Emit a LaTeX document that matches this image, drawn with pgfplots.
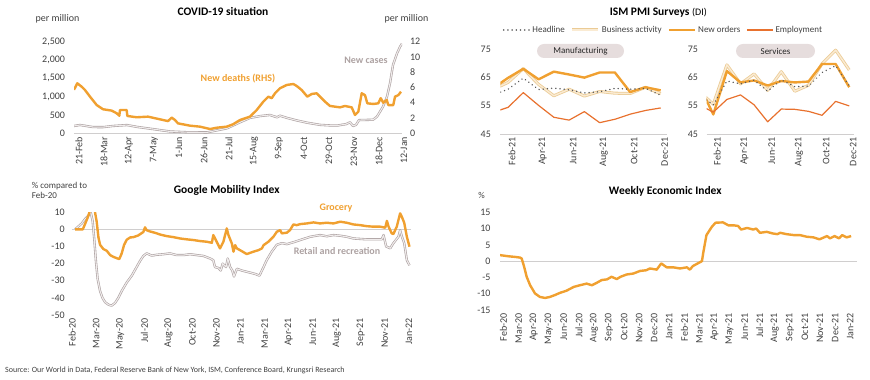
\documentclass[border=0pt]{standalone}
\usepackage{fontspec}
\setmainfont{Carlito}
\usepackage{pgfplots}
\pgfplotsset{compat=1.18}
\definecolor{orangeM}{HTML}{F0A030}
\definecolor{empO}{HTML}{E8712E}
\definecolor{baOut}{HTML}{EBCB95}
\definecolor{baIn}{HTML}{FAEBD3}
\definecolor{cOut}{HTML}{ABA0A0}
\definecolor{cIn}{HTML}{F0ECEC}
\definecolor{greyTxt}{HTML}{ADA2A2}
\definecolor{tickgray}{HTML}{404040}
\definecolor{linegray}{HTML}{D0CECE}
\definecolor{boxfill}{HTML}{E6DDDD}
\definecolor{hlgray}{HTML}{595959}
\pgfplotsset{
  base/.style={
    scale only axis,
    axis line style={draw=none},
    major tick length=0pt,
    tick label style={font=\fontsize{10}{11}\selectfont, text=tickgray},
    /pgf/number format/assume math mode=true,
    xticklabel style={rotate=90, anchor=east},
    yticklabel style={anchor=east},
  },
  zeroline/.style={extra y ticks={#1}, extra y tick labels={}, extra y tick style={grid=major, major grid style={draw=linegray, line width=0.9pt}}},
  thickO/.style={draw=orangeM, line width=2.4pt, line join=round},
  dbl/.style={draw=cOut, double=cIn, line width=0.6pt, double distance=1.1pt, line join=round},
  hl/.style={draw=hlgray, line width=1.6pt, dash pattern=on 0.01pt off 4.2pt, line cap=round},
  ba/.style={draw=baOut, double=baIn, line width=0.8pt, double distance=1.4pt, line join=round},
  no/.style={draw=orangeM, line width=2.4pt, line join=round},
  emp/.style={draw=empO, line width=1.2pt, line join=round},
}
\begin{document}
\begin{tikzpicture}
\useasboundingbox (0,0) rectangle (870pt,380pt);
%================ COVID ================
\begin{axis}[base, at={(74pt,246.7pt)}, anchor=south west, width=328pt, height=91.6pt,
  xmin=-2, xmax=326, ymin=0, ymax=2500,
  xtick={0,25,...,325},
  xticklabels={21-Feb,18-Mar,12-Apr,7-May,1-Jun,26-Jun,21-Jul,15-Aug,9-Sep,4-Oct,29-Oct,23-Nov,18-Dec,12-Jan},
  xticklabel style={yshift=-3pt},
  ytick={0,500,1000,1500,2000,2500},
  yticklabels={0,500,{1,000},{1,500},{2,000},{2,500}},
  yticklabel style={xshift=-5.5pt},
  zeroline=0]
\addplot[dbl] coordinates {(-2,200)(4,227)(17,170)(27,168)(37,200)(51,225)(61,175)(77,115)(94,50)(111,30)(131,25)(141,80)(151,136)(164,300)(174,420)(184,470)(194,500)(201,437)(204,480)(211,420)(221,350)(231,290)(244,230)(254,215)(262,215)(270,250)(274,300)(277,200)(280,230)(283,360)(297,370)(301,455)(304,590)(307,727)(311,1000)(314,1364)(317,1864)(321,2180)(324,2360)(326,2450)};
\end{axis}
\begin{axis}[base, at={(74pt,246.7pt)}, anchor=south west, width=328pt, height=91.6pt,
  xmin=-2, xmax=326, ymin=0, ymax=12,
  xtick=\empty, ytick={0,2,...,12}, yticklabel pos=right,
  yticklabel style={anchor=west, xshift=4.5pt}]
\addplot[thickO] coordinates {(-2,5.7)(1.3,6.55)(5.7,6.1)(9,5.67)(14,4.8)(20.7,3.7)(27,3.15)(35.7,2.97)(40.7,2.62)(43.3,2.3)(44,3.05)(50.7,3.05)(51.3,2.27)(60.7,2.1)(72,2.18)(84,1.83)(92,1.6)(95.7,2.05)(99,1.74)(102,1.3)(114,1.0)(124,0.87)(134,0.56)(140.7,0.73)(150.7,0.87)(157,1.18)(164,1.74)(174,2.18)(180.7,3.05)(187.3,4.14)(192.3,4.8)(195.7,4.6)(199,5.24)(204,5.9)(210.7,6.33)(217.3,6.46)(220.7,6.2)(225.7,5.67)(231.3,4.8)(235.7,5.15)(240.7,5.24)(244,4.8)(249,4.14)(254,3.58)(264,3.4)(269,3.58)(275.7,3.4)(279,2.4)(282.3,2.83)(285.7,5.24)(289,5.0)(291.3,3.93)(297.3,3.84)(302.3,3.93)(304.7,4.6)(307.3,4.0)(310.7,4.37)(312.3,3.7)(317.3,3.7)(319,4.8)(322.3,5.0)(325,5.45)};
\end{axis}
\node[font=\fontsize{11.5}{12}\selectfont\bfseries] at (223pt,368pt) {COVID-19 situation};
\node[font=\fontsize{10}{11}\selectfont, text=tickgray] at (57.5pt,361pt) {per million};
\node[font=\fontsize{10}{11}\selectfont, text=tickgray] at (406.5pt,361pt) {per million};
\node[font=\fontsize{10}{11}\selectfont\bfseries, text=orangeM] at (238pt,301pt) {New deaths (RHS)};
\node[font=\fontsize{10}{11}\selectfont\bfseries, text=greyTxt] at (366pt,320pt) {New cases};
%================ ISM ================
\begin{axis}[base, at={(500.4pt,246pt)}, anchor=south west, width=166.4pt, height=85pt,
  xmin=1.5, xmax=12.4, ymin=45, ymax=75,
  xtick={2,4,...,12}, xticklabels={Feb-21,Apr-21,Jun-21,Aug-21,Oct-21,Dec-21},
  xticklabel style={yshift=-4pt},
  ytick={45,55,65,75}, yticklabel style={xshift=-6pt},
  zeroline=45,
  legend image code/.code={\draw[#1] (0pt,0pt) -- (26pt,0pt);},
  legend columns=4,
  legend style={draw=none, fill=none, font=\fontsize{9}{10}\selectfont, text=tickgray,
    at={(0.98,1.2235)}, anchor=center, /tikz/every even column/.append style={column sep=4pt}}]
\addlegendimage{hl}\addlegendentry{Headline}
\addlegendimage{ba}\addlegendentry{Business activity}
\addlegendimage{no}\addlegendentry{New orders}
\addlegendimage{emp}\addlegendentry{Employment}
\addplot[ba, forget plot] coordinates {(1,60.7)(2,63.2)(3,68.1)(4,62.5)(5,58.5)(6,60.8)(7,58.4)(8,60.0)(9,59.4)(10,59.3)(11,61.5)(12,59.2)};
\addplot[no, forget plot] coordinates {(1,61.1)(2,64.8)(3,68.0)(4,64.3)(5,67.0)(6,66.0)(7,64.9)(8,66.7)(9,66.7)(10,59.8)(11,61.5)(12,60.4)};
\addplot[hl, forget plot] coordinates {(1,58.7)(2,60.8)(3,64.7)(4,60.7)(5,61.2)(6,60.6)(7,59.5)(8,59.9)(9,61.1)(10,60.8)(11,61.1)(12,58.7)};
\addplot[emp, forget plot] coordinates {(1,52.6)(2,54.4)(3,59.6)(4,55.1)(5,50.9)(6,49.9)(7,52.9)(8,49.0)(9,50.2)(10,52.0)(11,53.3)(12,54.2)};
\end{axis}
\begin{axis}[base, at={(706.5pt,246pt)}, anchor=south west, width=147.5pt, height=85pt,
  xmin=1.5, xmax=12.35, ymin=45, ymax=75,
  xtick={2,4,...,12}, xticklabels={Feb-21,Apr-21,Jun-21,Aug-21,Oct-21,Dec-21},
  xticklabel style={yshift=-4pt},
  ytick={45,55,65,75}, yticklabel style={xshift=-5pt},
  zeroline=45]
\addplot[ba] coordinates {(1,59.9)(2,55.5)(3,69.4)(4,62.7)(5,66.2)(6,60.4)(7,67.0)(8,60.1)(9,62.2)(10,69.8)(11,74.6)(12,67.6)};
\addplot[no] coordinates {(1,61.8)(2,51.9)(3,67.2)(4,63.2)(5,63.9)(6,62.1)(7,63.7)(8,63.2)(9,63.5)(10,69.7)(11,69.7)(12,61.5)};
\addplot[hl] coordinates {(1,58.7)(2,55.3)(3,63.7)(4,62.7)(5,64.0)(6,60.1)(7,64.1)(8,61.7)(9,61.9)(10,66.7)(11,69.1)(12,62.0)};
\addplot[emp] coordinates {(1,55.2)(2,52.7)(3,57.2)(4,58.8)(5,55.3)(6,49.3)(7,53.8)(8,53.7)(9,53.0)(10,51.6)(11,56.5)(12,54.9)};
\end{axis}
\node[font=\fontsize{11.5}{12}\selectfont] at (658.3pt,367pt) {\textbf{ISM PMI Surveys} {\fontsize{10}{11}\selectfont(DI)}};
\node[fill=boxfill, rounded corners=7pt, minimum width=87pt, minimum height=14pt, inner sep=0pt, font=\fontsize{9}{10}\selectfont, text=black!85] at (580.5pt,329pt) {Manufacturing};
\node[fill=boxfill, rounded corners=7pt, minimum width=79pt, minimum height=14pt, inner sep=0pt, font=\fontsize{9}{10}\selectfont, text=black!85] at (775.5pt,329pt) {Services};
%================ Mobility ================
\begin{axis}[base, at={(71.7pt,65pt)}, anchor=south west, width=339pt, height=102.7pt,
  xmin=0, xmax=14.1, ymin=-50, ymax=10,
  xtick={0,...,14},
  xticklabels={Feb-20,Mar-20,May-20,Jul-20,Aug-20,Oct-20,Nov-20,Jan-21,Mar-21,Apr-21,Jun-21,Aug-21,Sep-21,Nov-21,Jan-22},
  xticklabel style={yshift=-0.5pt},
  ytick={-50,-40,...,10}, yticklabel style={xshift=-3.5pt},
  zeroline=0]
\addplot[dbl] coordinates {(0.14,0)(0.42,3.5)(0.55,6)(0.69,8)(0.79,10)(0.87,5)(0.94,-6)(1.01,-19)(1.08,-29)(1.18,-36)(1.28,-40)(1.39,-42.5)(1.53,-44)(1.66,-44.5)(1.8,-43)(1.94,-40)(2.08,-36)(2.29,-31)(2.5,-27)(2.7,-22)(2.84,-18.5)(2.98,-15.5)(3.12,-14)(3.33,-15.3)(3.54,-14.8)(3.81,-14.5)(4.09,-14)(4.37,-15)(4.65,-15)(4.92,-14.5)(5.2,-15)(5.48,-15.5)(5.76,-17)(5.89,-18)(5.96,-22)(6.1,-22.5)(6.2,-24)(6.28,-20)(6.42,-22)(6.49,-17)(6.59,-22)(6.68,-24)(6.75,-27.5)(6.87,-23)(7.07,-24)(7.35,-25)(7.63,-26)(7.81,-27)(7.98,-22)(8.11,-18)(8.32,-13)(8.53,-9)(8.74,-8)(8.95,-8.6)(9.22,-7.5)(9.5,-6.2)(9.92,-4.3)(10.33,-3.3)(10.61,-4)(10.89,-3.3)(11.17,-3.7)(11.44,-4.3)(11.72,-5.3)(12.27,-5.8)(12.9,-5.8)(12.97,-3.3)(13.08,-10)(13.25,-11)(13.38,-8)(13.59,-4.3)(13.66,-0.5)(13.73,-4)(13.83,-8)(13.94,-18)(14.05,-21)};
\addplot[thickO] coordinates {(0.14,0)(0.46,0)(0.55,3)(0.65,6.4)(0.74,10)(0.82,25)(0.9,25)(0.97,10)(1.04,4.5)(1.11,-4.5)(1.18,-9)(1.32,-11.5)(1.46,-12.5)(1.6,-15)(1.73,-16)(1.87,-16.8)(1.98,-17.3)(2.08,-14)(2.18,-9)(2.29,-6)(2.43,-4.7)(2.57,-4.5)(2.77,-3.5)(2.98,-1.5)(3.05,1.2)(3.12,-0.5)(3.26,-1.2)(3.47,-2)(3.68,-3)(3.95,-3.9)(4.23,-4.5)(4.51,-5.3)(4.79,-5.8)(5.06,-6.2)(5.34,-6.8)(5.62,-7.2)(5.83,-7.8)(5.89,-3.3)(6.03,-7.2)(6.17,-11.1)(6.31,-7.2)(6.45,0.6)(6.52,-3.3)(6.66,-8.2)(6.73,-13)(6.8,-9.2)(6.87,-11.1)(7.0,-12.1)(7.28,-14.4)(7.56,-13)(7.77,-12.1)(7.91,-11.1)(7.98,-9.2)(8.18,-7.2)(8.39,-4.3)(8.53,-1.4)(8.67,-0.4)(8.74,-2.3)(8.95,-1.9)(9.08,-0.4)(9.22,2.9)(9.36,2.5)(9.5,3.1)(9.78,3.5)(10.06,4.1)(10.33,3.5)(10.61,3.9)(10.89,3.5)(11.17,4.5)(11.44,3.9)(11.72,2.9)(12.0,2.5)(12.27,1.9)(12.55,1.6)(12.83,1.6)(13.04,1.0)(13.11,5.0)(13.18,1.6)(13.31,-2.3)(13.38,-2.7)(13.52,1.6)(13.66,9.4)(13.73,7.4)(13.83,3.9)(13.94,-4.3)(14.05,-10.1)};
\end{axis}
\node[font=\fontsize{11.5}{12}\selectfont\bfseries] at (226.7pt,190pt) {Google Mobility Index};
\node[font=\fontsize{9}{10}\selectfont, text=tickgray, anchor=north west, align=left, inner sep=0pt] at (31.7pt,198pt) {\% compared to\\Feb-20};
\node[font=\fontsize{10}{11}\selectfont\bfseries, text=orangeM] at (336pt,172pt) {Grocery};
\node[font=\fontsize{10}{11}\selectfont\bfseries, text=greyTxt] at (337pt,129pt) {Retail and recreation};
%================ WEI ================
\begin{axis}[base, at={(500pt,70pt)}, anchor=south west, width=356.7pt, height=97.7pt,
  xmin=0, xmax=23.67, ymin=-15, ymax=15,
  xtick={0,...,23},
  xticklabels={Feb-20,Mar-20,Apr-20,May-20,Jun-20,Jul-20,Aug-20,Sep-20,Oct-20,Nov-20,Dec-20,Jan-21,Feb-21,Mar-21,Apr-21,May-21,Jun-21,Jul-21,Aug-21,Sep-21,Oct-21,Nov-21,Dec-21,Jan-22},
  xticklabel style={yshift=-3.5pt},
  ytick={-15,-10,...,15}, yticklabel style={xshift=-6pt},
  zeroline=0]
\addplot[thickO] coordinates {(0,1.85)(0.55,1.5)(1,1.3)(1.33,1.1)(1.44,0.8)(1.6,-1.7)(1.77,-4.8)(2,-7.4)(2.32,-9.9)(2.65,-11)(3,-11.3)(3.3,-11)(3.65,-10.4)(4,-9.7)(4.4,-9.1)(4.9,-7.9)(5.3,-7.4)(5.75,-6.9)(6.1,-7.4)(6.4,-6.7)(6.75,-5.8)(7.1,-5.6)(7.4,-4.8)(7.75,-5.5)(8,-4.8)(8.4,-4.1)(8.85,-3.8)(9.3,-3)(9.7,-2.8)(9.95,-2.25)(10.4,-2.6)(10.7,-0.7)(11.06,-1.9)(11.5,-1.9)(11.95,-2.25)(12.4,-1.9)(12.6,-2.6)(12.8,-1.5)(13.2,-0.5)(13.4,0)(13.5,2.9)(13.7,8)(14.05,10.5)(14.3,11.8)(14.8,11.9)(15.15,11)(15.5,11)(15.8,10.8)(16,9.7)(16.4,10.2)(16.8,9.7)(17,10)(17.25,8.7)(17.7,9)(18.1,8.5)(18.4,8.3)(18.6,8.7)(19,8.3)(19.5,8)(19.9,8)(20.35,7.5)(20.8,7.3)(21.2,6.7)(21.7,7.7)(21.9,7)(22.2,7.7)(22.5,7)(22.7,8)(23,7.3)(23.3,7.7)};
\end{axis}
\node[font=\fontsize{11.5}{12}\selectfont\bfseries] at (665.3pt,189pt) {Weekly Economic Index};
\node[font=\fontsize{9}{10}\selectfont, text=tickgray] at (481.7pt,185pt) {\%};
%================ Source ================
\node[font=\fontsize{8}{9}\selectfont, text=tickgray, anchor=west, inner sep=0pt] at (5pt,10pt) {Source: Our World in Data, Federal Reserve Bank of New York, ISM, Conference Board, Krungsri Research};
\end{tikzpicture}
\end{document}
